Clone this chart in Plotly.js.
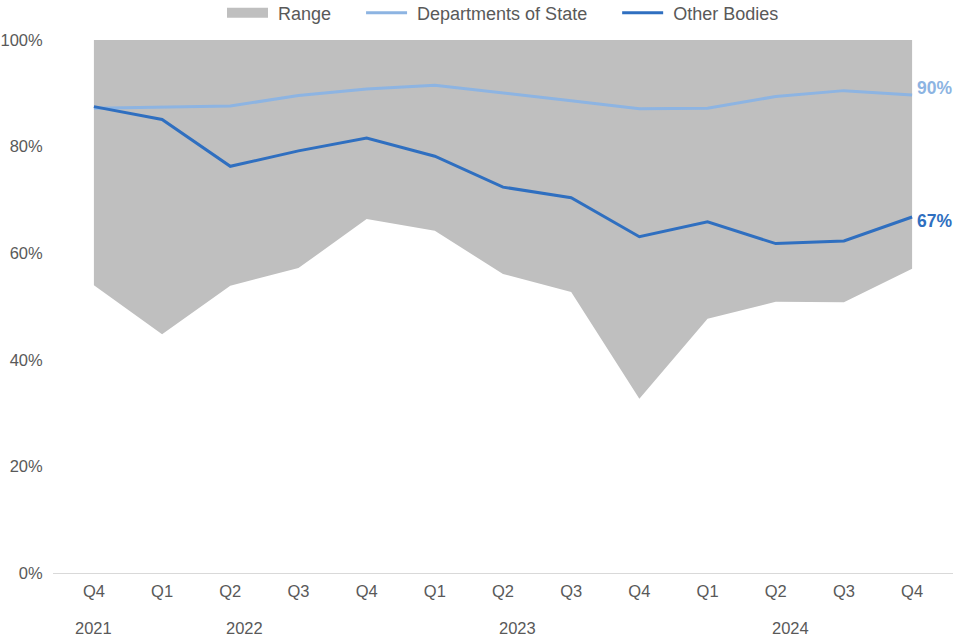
<!DOCTYPE html>
<html>
<head>
<meta charset="utf-8">
<script src="https://cdn.plot.ly/plotly-3.0.1.min.js"></script>
<style>html,body{margin:0;padding:0;background:#fff;}#chart{width:960px;height:640px;}</style>
</head>
<body>
<div id="chart"></div>
<script>
const quarters = ['Q4','Q1','Q2','Q3','Q4','Q1','Q2','Q3','Q4','Q1','Q2','Q3','Q4'];
const years = ['2021','2022','2023','2024'];
const yearStartIndex = [0, 1, 5, 9];
const yTicks = [0, 20, 40, 60, 80, 100];
const rangeLow = [54.0, 44.8, 53.9, 57.2, 66.4, 64.2, 56.1, 52.7, 32.7, 47.7, 50.9, 50.8, 57.1];
const rangeHigh = [100, 100, 100, 100, 100, 100, 100, 100, 100, 100, 100, 100, 100];
const deptState = [87.2, 87.4, 87.6, 89.6, 90.8, 91.5, 90.1, 88.6, 87.1, 87.2, 89.4, 90.5, 89.7];
const otherBodies = [87.5, 85.1, 76.3, 79.2, 81.6, 78.2, 72.4, 70.4, 63.1, 65.9, 61.8, 62.3, 66.8];

const idx = quarters.map((q, i) => i);
const FONT = 'Liberation Sans, Arial, sans-serif';
const GREY_TXT = '#595959';
const C_RANGE = '#bfbfbf';
const C_DEPT = '#8db4e2';
const C_OTHER = '#2f6fc0';
const PRE = '\u00a0';
const PAD = '\u00a0\u00a0\u00a0\u00a0\u00a0';

const traces = [
  {x: [null], y: [null], type: 'scatter', mode: 'lines', line: {width: 14, color: C_RANGE},
   name: PRE + 'Range' + PAD, hoverinfo: 'skip'},
  {x: idx, y: rangeLow, type: 'scatter', mode: 'lines', line: {width: 0, color: C_RANGE},
   showlegend: false, hoverinfo: 'skip'},
  {x: idx, y: rangeHigh, type: 'scatter', mode: 'lines', fill: 'tonexty', fillcolor: C_RANGE,
   line: {width: 0, color: C_RANGE}, showlegend: false, hoverinfo: 'skip'},
  {x: idx, y: deptState, type: 'scatter', mode: 'lines', line: {width: 3, color: C_DEPT},
   name: PRE + 'Departments of State' + PAD, hoverinfo: 'skip'},
  {x: idx, y: otherBodies, type: 'scatter', mode: 'lines', line: {width: 3, color: C_OTHER},
   name: PRE + 'Other Bodies', hoverinfo: 'skip'}
];

const last = idx.length - 1;
const annotations = [];
years.forEach((yr, k) => {
  const start = yearStartIndex[k];
  const xpos = k === 0 ? start : start + 1.21;
  annotations.push({x: xpos, xref: 'x', y: 0, yref: 'paper', yshift: -55, yanchor: 'middle',
    xanchor: 'center', text: yr, showarrow: false, font: {family: FONT, size: 16.5, color: GREY_TXT}});
});
annotations.push({x: last, y: deptState[last], xref: 'x', yref: 'y', xanchor: 'left', yanchor: 'middle',
  xshift: 3, yshift: 7, text: Math.round(deptState[last]) + '%', showarrow: false,
  font: {family: FONT, size: 17.5, color: C_DEPT, weight: 'bold'}});
annotations.push({x: last, y: otherBodies[last], xref: 'x', yref: 'y', xanchor: 'left', yanchor: 'middle',
  xshift: 3, yshift: -4, text: Math.round(otherBodies[last]) + '%', showarrow: false,
  font: {family: FONT, size: 17.5, color: C_OTHER, weight: 'bold'}});

const layout = {
  width: 960, height: 640,
  margin: {l: 53, r: 7, t: 40, b: 66.7, pad: 0},
  paper_bgcolor: '#fff', plot_bgcolor: '#fff',
  font: {family: FONT, size: 16.5, color: GREY_TXT},
  showlegend: true,
  legend: {orientation: 'h', traceorder: 'normal', x: 0.5, xanchor: 'center', y: 0.9797, yref: 'container', yanchor: 'middle',
    font: {family: FONT, size: 18, color: GREY_TXT}, itemwidth: 41, bgcolor: 'rgba(0,0,0,0)'},
  xaxis: {range: [-0.6, 12.6], tickmode: 'array', tickvals: idx, ticktext: quarters,
    showgrid: false, zeroline: false, showline: true, linecolor: '#d9d9d9', linewidth: 1,
    ticks: 'outside', ticklen: 3, tickcolor: 'rgba(0,0,0,0)', fixedrange: true,
    tickfont: {family: FONT, size: 16.5, color: GREY_TXT}},
  yaxis: {range: [0, 100], tickmode: 'array', tickvals: yTicks, ticktext: yTicks.map(v => v + '%'),
    showgrid: false, zeroline: false, showline: false,
    ticks: 'outside', ticklen: 6, tickcolor: 'rgba(0,0,0,0)', fixedrange: true,
    tickfont: {family: FONT, size: 16.5, color: GREY_TXT}},
  annotations: annotations
};

Plotly.newPlot('chart', traces, layout, {displayModeBar: false, staticPlot: true});
</script>
</body>
</html>
